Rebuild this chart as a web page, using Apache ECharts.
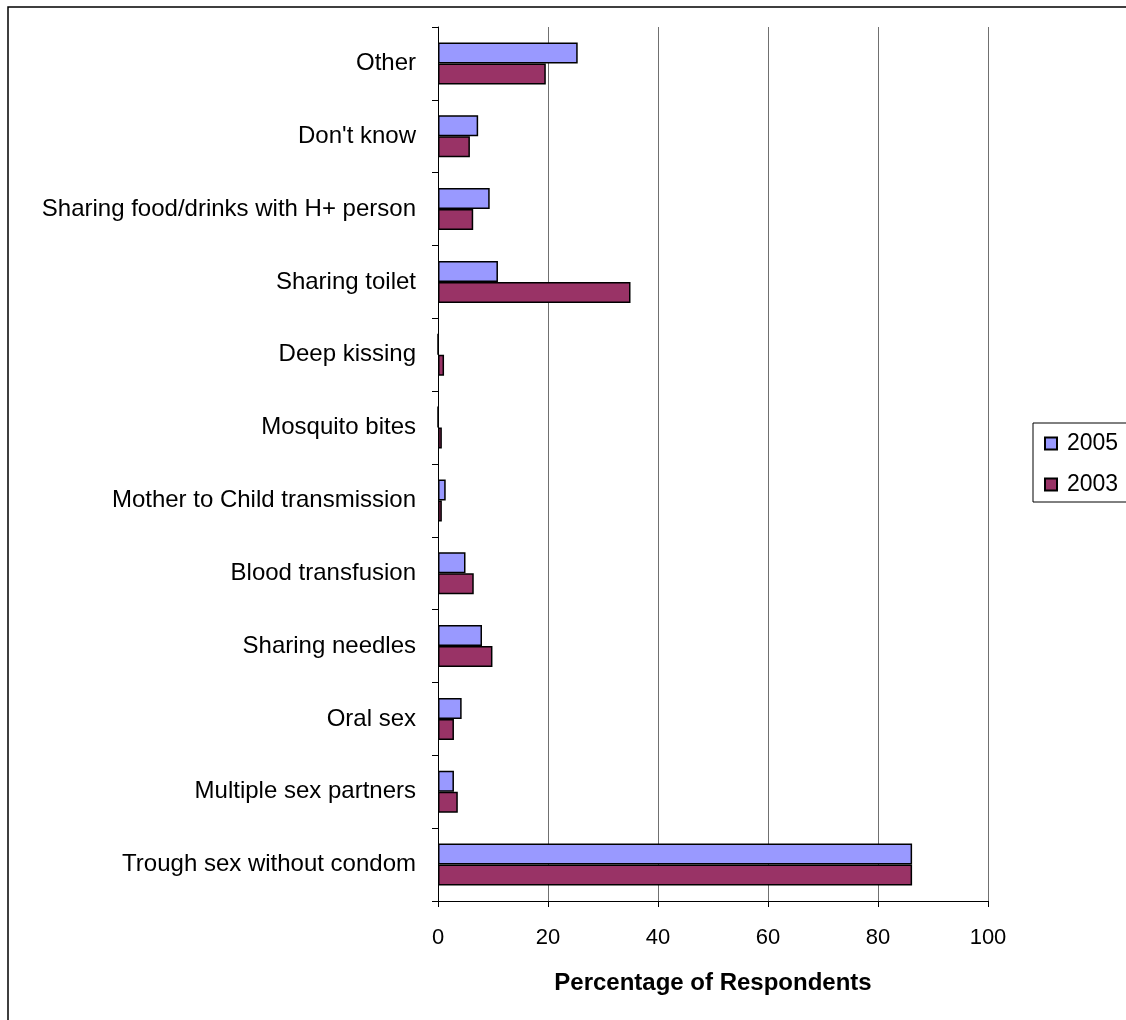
<!DOCTYPE html>
<html>
<head>
<meta charset="utf-8">
<script src="https://cdn.jsdelivr.net/npm/echarts@6/dist/echarts.min.js"></script>
<style>
  html, body { margin: 0; padding: 0; background: #fff; }
  #chart { width: 1126px; height: 1020px; }
</style>
</head>
<body>
<div id="chart"></div>
<script>
// Perceived HIV transmission routes, top to bottom
const categories = [
  'Other',
  "Don't know",
  'Sharing food/drinks with H+ person',
  'Sharing toilet',
  'Deep kissing',
  'Mosquito bites',
  'Mother to Child transmission',
  'Blood transfusion',
  'Sharing needles',
  'Oral sex',
  'Multiple sex partners',
  'Trough sex without condom'
];
const values2005 = [25.4, 7.3, 9.4, 10.9, 0, 0, 1.4, 5.0, 8.0, 4.3, 2.9, 86.2];
const values2003 = [19.6, 5.8, 6.4, 35.0, 1.1, 0.7, 0.7, 6.5, 9.9, 2.9, 3.6, 86.2];
const xTicks = [0, 20, 40, 60, 80, 100];

const font = 'Liberation Sans, Arial, sans-serif';
const chart = echarts.init(document.getElementById('chart'));

chart.setOption({
  backgroundColor: '#ffffff',
  animation: false,
  graphic: [{
    type: 'rect',
    shape: { x: 8, y: 7, width: 1130, height: 1030 },
    style: { fill: 'none', stroke: '#000', lineWidth: 1.5 },
    silent: true
  }],
  grid: { left: 438, right: 138, top: 27, bottom: 119 },
  legend: {
    orient: 'vertical',
    left: 1033,
    top: 423,
    data: ['2005', '2003'],
    icon: 'rect',
    itemWidth: 12,
    itemHeight: 12,
    itemGap: 18,
    padding: [9, 40, 6, 11],
    borderColor: '#000',
    borderWidth: 1,
    textStyle: { fontFamily: font, fontSize: 23, color: '#000', padding: [0, 0, 0, 5] }
  },
  xAxis: {
    type: 'value',
    min: xTicks[0],
    max: xTicks[xTicks.length - 1],
    interval: 20,
    name: 'Percentage of Respondents',
    nameLocation: 'middle',
    nameGap: 70,
    nameTextStyle: { fontFamily: font, fontSize: 24, fontWeight: 'bold', color: '#000' },
    axisLine: { show: true, lineStyle: { color: '#000', width: 1 } },
    axisTick: { show: true, length: 6, lineStyle: { color: '#000' } },
    axisLabel: { fontFamily: font, fontSize: 22, color: '#000', margin: 26 },
    splitLine: { show: true, lineStyle: { color: '#707070', width: 1 } }
  },
  yAxis: {
    type: 'category',
    inverse: true,
    data: categories,
    axisLine: { show: true, lineStyle: { color: '#000', width: 1 } },
    axisTick: { show: true, length: 6, inside: false, lineStyle: { color: '#000' } },
    axisLabel: { fontFamily: font, fontSize: 24, color: '#000', margin: 22 }
  },
  series: [
    {
      name: '2005',
      type: 'bar',
      data: values2005,
      barWidth: 21,
      barGap: '0%',
      itemStyle: { color: '#9999FF', borderColor: '#000', borderWidth: 1.5 }
    },
    {
      name: '2003',
      type: 'bar',
      data: values2003,
      barWidth: 21,
      barGap: '0%',
      itemStyle: { color: '#993366', borderColor: '#000', borderWidth: 1.5 }
    }
  ]
});
</script>
</body>
</html>
